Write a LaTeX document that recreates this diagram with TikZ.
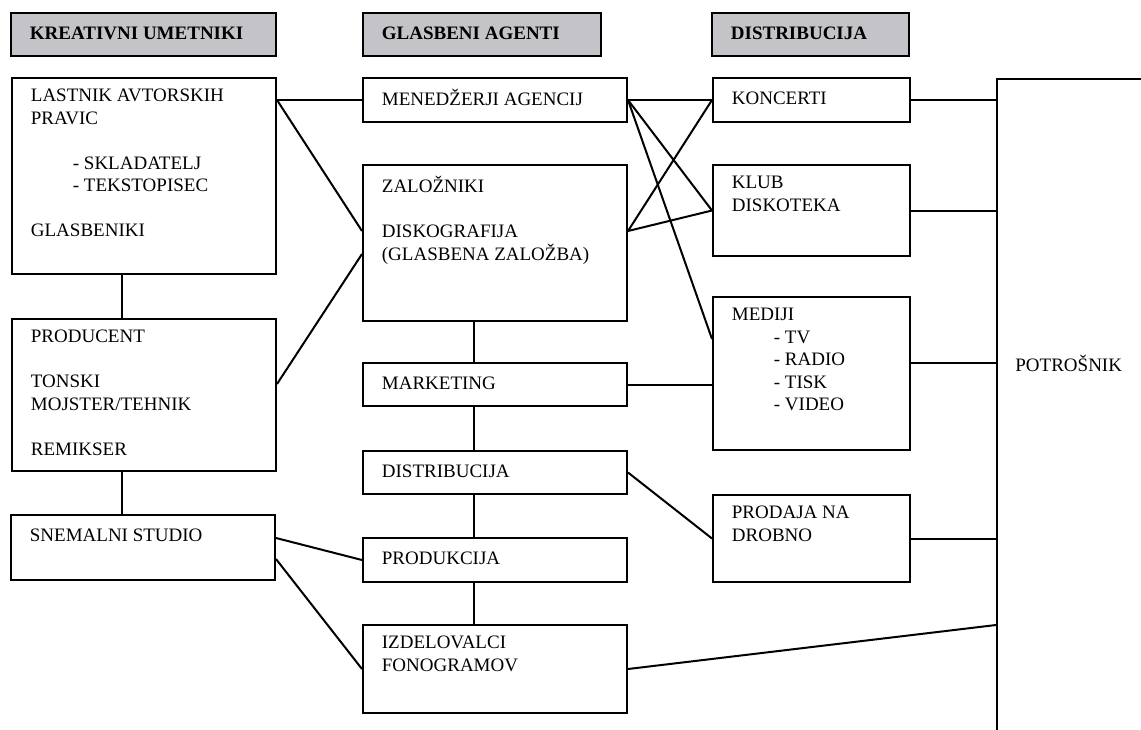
\documentclass[tikz,border=0pt]{standalone}
\usepackage{fontspec}
\setmainfont{Liberation Serif}
\usetikzlibrary{calc}
\definecolor{hdrgray}{RGB}{196,196,200}
\tikzset{
    box/.style 2 args={draw, line width=1pt, anchor=north west, inner sep=0pt,
        minimum width=#1*0.5pt, minimum height=#2*0.5pt},
    hdr/.style 2 args={box={#1}{#2}, fill=hdrgray},
    txt/.style={anchor=north west, align=left, inner sep=0pt, xshift=9.75pt, yshift=-5.9pt,
        font=\fontsize{9.5}{11.25}\selectfont, execute at begin node=\strut},
    link/.style={line width=1pt},
}
\begin{document}
\begin{tikzpicture}[x=0.5pt,y=-0.5pt]
    \useasboundingbox (0,0) rectangle (1141,729);
    \fill[white] (0,0) rectangle (1141,729);
    \clip (0,0) rectangle (1141,729);
    % headers
    \node[hdr={265}{43}] (kreativni) at (10,12) {}; \node[txt] (kreativni-t) at (kreativni.north west) {\bfseries KREATIVNI UMETNIKI};
    \node[hdr={238}{43}] (agenti) at (362,12) {}; \node[txt] (agenti-t) at (agenti.north west) {\bfseries GLASBENI AGENTI};
    \node[hdr={197}{43}] (distr) at (711,12) {}; \node[txt] (distr-t) at (distr.north west) {\bfseries DISTRIBUCIJA};
    % kreativni umetniki
    \node[box={264}{196}] (lastnik) at (11,77) {};
    \node[txt] (lastnik-t) at (lastnik.north west) {LASTNIK AVTORSKIH\\ PRAVIC\\[11.25pt]
        \hspace*{21pt}- SKLADATELJ\\ \hspace*{21pt}- TEKSTOPISEC\\[11.25pt] GLASBENIKI};
    \node[box={264}{152}] (producent) at (11,318) {};
    \node[txt] (producent-t) at (producent.north west) {PRODUCENT\\[11.25pt] TONSKI\\ MOJSTER/TEHNIK\\[11.25pt] REMIKSER};
    \node[box={264}{65}] (studio) at (10,514) {}; \node[txt] (studio-t) at (studio.north west) {SNEMALNI STUDIO};
    % glasbeni agenti
    \node[box={264}{44}] (menedzerji) at (362,77) {}; \node[txt] (menedzerji-t) at (menedzerji.north west) {MENEDŽERJI AGENCIJ};
    \node[box={264}{156}] (zalozniki) at (362,164) {};
    \node[txt] (zalozniki-t) at (zalozniki.north west) {ZALOŽNIKI\\[11.25pt] DISKOGRAFIJA\\ (GLASBENA ZALOŽBA)};
    \node[box={264}{43}] (marketing) at (362,362) {}; \node[txt] (marketing-t) at (marketing.north west) {MARKETING};
    \node[box={264}{43}] (distribucija) at (362,450) {}; \node[txt] (distribucija-t) at (distribucija.north west) {DISTRIBUCIJA};
    \node[box={264}{44}] (produkcija) at (362,537) {}; \node[txt] (produkcija-t) at (produkcija.north west) {PRODUKCIJA};
    \node[box={264}{88}] (izdelovalci) at (362,624) {}; \node[txt] (izdelovalci-t) at (izdelovalci.north west) {IZDELOVALCI\\ FONOGRAMOV};
    % distribucija
    \node[box={197}{44}] (koncerti) at (712,77) {}; \node[txt] (koncerti-t) at (koncerti.north west) {KONCERTI};
    \node[box={197}{91}] (klub) at (712,164) {}; \node[txt] (klub-t) at (klub.north west) {KLUB\\ DISKOTEKA};
    \node[box={197}{153}] (mediji) at (712,296) {};
    \node[txt] (mediji-t) at (mediji.north west) {MEDIJI\\ \hspace*{21pt}- TV\\ \hspace*{21pt}- RADIO\\
        \hspace*{21pt}- TISK\\ \hspace*{21pt}- VIDEO};
    \node[box={197}{87}] (prodaja) at (712,494) {}; \node[txt] (prodaja-t) at (prodaja.north west) {PRODAJA NA\\ DROBNO};
    % potrosnik
    \node[box={300}{720}] (potrosnik) at (996,78) {};
    \node[anchor=base west, inner sep=0pt, font=\fontsize{9.5}{11.25}\selectfont] (potrosnik-t) at (1015,371) {POTROŠNIK};
    \coordinate (potrosnik-in) at ($(potrosnik.north west)+(0,547)$);

    \draw[link] (menedzerji.west -| lastnik.east) -- (menedzerji.west);
    \draw[link] (menedzerji.west -| lastnik.east) -- ([yshift=6pt]zalozniki.west);
    \draw[link] ([yshift=5.5pt]producent.east) -- ([yshift=-5.5pt]zalozniki.west);
    \draw[link] ([xshift=-11pt]lastnik.south) -- ([xshift=-11pt]producent.north);
    \draw[link] ([xshift=-11pt]producent.south) -- ([xshift=-11pt]producent.south |- studio.north);
    \draw[link] ([yshift=4.75pt]studio.east) -- (produkcija.west);
    \draw[link] ([yshift=-5.75pt]studio.east) -- (izdelovalci.west);
    \draw[link] ([xshift=-10.5pt]zalozniki.south) -- ([xshift=-10.5pt]marketing.north);
    \draw[link] ([xshift=-10.5pt]marketing.south) -- ([xshift=-10.5pt]distribucija.north);
    \draw[link] ([xshift=-10.5pt]distribucija.south) -- ([xshift=-10.5pt]produkcija.north);
    \draw[link] ([xshift=-10.5pt]produkcija.south) -- ([xshift=-10.5pt]izdelovalci.north);
    \draw[link] (menedzerji.east) -- (koncerti.west);
    \draw[link] (menedzerji.east) -- (klub.west);
    \draw[link] (menedzerji.east) -- ([yshift=17.25pt]mediji.west);
    \draw[link] ([yshift=6pt]zalozniki.east) -- (koncerti.west);
    \draw[link] ([yshift=6pt]zalozniki.east) -- (klub.west);
    \draw[link] (marketing.east) -- (marketing.east -| mediji.west);
    \draw[link] (distribucija.east) -- (prodaja.west);
    \draw[link] (koncerti.east) -- (koncerti.east -| potrosnik.west);
    \draw[link] (klub.east) -- (klub.east -| potrosnik.west);
    \draw[link] ([yshift=5.25pt]mediji.east) -- ([yshift=5.25pt]mediji.east -| potrosnik.west);
    \draw[link] (prodaja.east) -- (prodaja.east -| potrosnik.west);
    \draw[link] (izdelovalci.east) -- (potrosnik-in);
\end{tikzpicture}
\end{document}
